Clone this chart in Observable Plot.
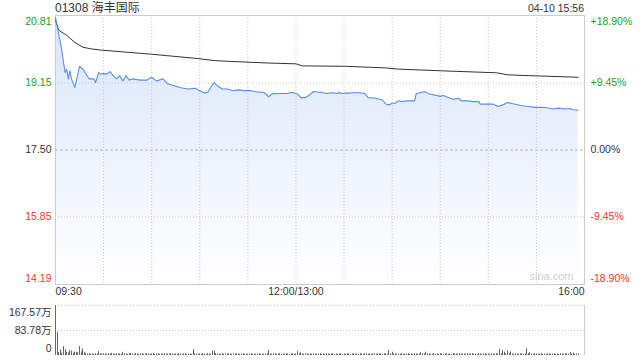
<!DOCTYPE html>
<html>
<head>
<meta charset="utf-8">
<script src="https://cdn.jsdelivr.net/npm/d3@7"></script>
<script src="https://cdn.jsdelivr.net/npm/@observablehq/plot@0.6"></script>
<style>
  html, body { margin: 0; padding: 0; background: #fff; }
  #wrap { position: relative; width: 640px; height: 360px; overflow: hidden;
          font-family: "Liberation Sans", Arial, "Noto Sans CJK SC", sans-serif; }
  #title { position: absolute; left: 55px; top: 2px; font-size: 12px; line-height: 12px; color: #333; white-space: nowrap; }
  #date { position: absolute; right: 56px; top: 3px; font-size: 10.5px; line-height: 11px; color: #333; white-space: nowrap; }
  #main { position: absolute; left: 0; top: 0; }
  #vol { position: absolute; left: 0; top: 300px; }
  svg { overflow: visible; }
</style>
</head>
<body>
<div id="wrap">
  <div id="main"></div>
  <div id="vol"></div>
  <div id="title">01308 海丰国际</div>
  <div id="date">04-10 15:56</div>
</div>
<script>
// ---- data (minutes since 09:30, lunch break removed) ----
const priceTimes = [0,2,4,5,6,7,8,9,10,12,13,15,17,19,21,24,25,27,28,30,32,34,36,38,40,42,44,46,48,53,57,60,63,67,70,74,78,83,87,90,93,95,98,99,101,104,107,111,114,118,122,124,127,130,133,135,141,145,147,151,153,156,158,161,164,166,169,172,176,177,178,182,186,190,193,195,199,202,204,206,208,210,212,214,216,219,224,225,228,231,233,237,240,242,245,248,252,253,257,260,264,265,270,273,276,279,282,286,291,295,299,303,307,310,314,318,321,323,326];
const prices = [20.76,20.35,19.94,19.65,19.41,19.49,19.25,19.45,19.25,19.04,19.20,19.56,19.49,19.37,19.25,19.25,19.16,19.41,19.37,19.38,19.37,19.43,19.33,19.25,19.33,19.20,19.33,19.22,19.25,19.22,19.22,19.29,19.20,19.25,19.13,19.08,19.03,19.00,19.02,18.96,18.90,18.92,19.11,19.16,19.08,19.00,19.00,18.96,18.98,18.96,18.96,18.94,18.92,18.92,18.81,18.88,18.89,18.89,18.92,18.88,18.79,18.79,18.84,18.94,18.92,18.92,18.89,18.91,18.89,18.92,18.89,18.90,18.91,18.91,18.89,18.79,18.78,18.75,18.73,18.63,18.61,18.65,18.65,18.71,18.69,18.71,18.71,18.88,18.92,18.93,18.88,18.85,18.82,18.84,18.79,18.75,18.77,18.71,18.71,18.69,18.69,18.63,18.63,18.63,18.57,18.61,18.67,18.63,18.59,18.57,18.55,18.55,18.54,18.51,18.53,18.51,18.52,18.49,18.48];

const avgTimes = [0,2,7,12,17,22,28,59,89,99,109,133,150,154,181,206,214,240,275,282,295,303,326];
const avgPrices = [20.70,20.45,20.32,20.15,20.03,19.99,19.96,19.86,19.75,19.70,19.68,19.64,19.62,19.57,19.56,19.52,19.49,19.45,19.40,19.35,19.33,19.32,19.29];

// volume in 万, one value per minute from 0 to 326
const volumes = [
  167.57,78,10,19,8,30,19,11,9,17, 15,8,11,11,9,30,12,22,11,6, 5,6,4,5,4,6,5,13,6,5,
  6,5,4,6,5,7,5,4,6,5, 5,4,11,6,5,4,6,7,5,4, 6,5,4,5,6,4,5,6,5,4,
  5,6,4,5,6,4,5,4,6,5, 4,5,6,5,4,5,4,6,5,4, 5,6,4,5,5,4,20,6,5,4,
  5,4,6,5,4,6,5,4,15,15, 6,5,4,5,6,4,5,4,6,5, 4,5,4,6,5,4,5,6,4,5,
  4,5,6,4,5,4,5,6,4,5, 4,5,6,17,5,4,6,5,4,5, 6,4,5,4,6,5,4,5,6,4,
  5,13,6,9,5,4,6,5,4,5, 4,6,5,4,5,6,4,5,4,6, 5,4,5,6,4,5,4,5,6,4,
  5,4,6,5,4,5,6,4,5,4, 6,5,4,5,6,4,5,4,5,6, 4,5,6,5,4,5,6,4,17,6,
  11,5,6,4,5,4,6,5,4,5, 6,4,5,4,6,5,4,5,9,6, 5,11,6,5,4,5,6,4,5,4,
  6,5,4,5,6,4,5,4,6,5, 4,5,6,4,5,4,5,6,4,5, 6,4,5,4,6,5,4,5,6,4,
  5,4,6,5,4,6,5,20,6,17, 11,6,15,6,12,5,4,6,5,4, 5,6,4,5,22,6,9,5,4,6,
  5,4,5,6,4,5,4,6,5,4, 5,6,4,5,4,6,5,4,5,6, 4,10,5,8,4,5,6
];

const priceTicks = [20.81, 19.15, 17.50, 15.85, 14.19];
const pctLabels = ["+18.90%", "+9.45%", "0.00%", "-9.45%", "-18.90%"];
const tickColors = ["#1e9e1e", "#1e9e1e", "#333333", "#f2362e", "#f2362e"];
const gridTimes = [30, 60, 90, 120, 150, 180, 210, 240, 270, 300];
const xLabels = ["09:30", "12:00/13:00", "16:00"];
const xLabelTimes = [0, 150, 330];
const volTicks = [167.57, 83.78, 0];
const volLabels = ["167.57万", "83.78万", "0"];

// ---- tables ----
const priceData = priceTimes.map((t, i) => ({t, p: prices[i]}));
const avgData = avgTimes.map((t, i) => ({t, p: avgPrices[i]}));
const volData = volumes.map((v, t) => ({t, v}));
const tickData = priceTicks.map((v, i) => ({v, label: v.toFixed(2), pct: pctLabels[i], color: tickColors[i]}));
const xLab = xLabels.map((s, i) => ({t: xLabelTimes[i], s}));
const volLab = volTicks.map((v, i) => ({v, s: volLabels[i]}));

const FONT = '"Liberation Sans", Arial, "Noto Sans CJK SC", sans-serif';
const FS = 10.5;

function gradientDefs() {
  const defs = d3.create("svg:defs");
  const g = defs.append("linearGradient").attr("id", "pg")
    .attr("x1", 0).attr("y1", 0).attr("x2", 0).attr("y2", 1);
  g.append("stop").attr("offset", "0%").attr("stop-color", "#d9e5fa");
  g.append("stop").attr("offset", "100%").attr("stop-color", "#ffffff");
  return defs.node();
}

const yMin = priceTicks[priceTicks.length - 1];
const yMax = priceTicks[0];

const main = Plot.plot({
  width: 640, height: 300,
  marginLeft: 55, marginRight: 56, marginTop: 15, marginBottom: 16,
  x: {domain: [0, 330], axis: null},
  y: {domain: [yMin, yMax], axis: null},
  color: {type: "identity"},
  style: {fontFamily: FONT, fontSize: FS + "px", background: "transparent", overflow: "visible"},
  marks: [
    gradientDefs,
    Plot.areaY(priceData, {x: "t", y1: () => yMin, y2: "p", fill: "url(#pg)"}),
    Plot.ruleX(gridTimes, {stroke: "#c8c8c8", strokeDasharray: "1,2"}),
    Plot.ruleY([priceTicks[1], priceTicks[3]], {stroke: "#c8c8c8", strokeDasharray: "1,2"}),
    Plot.ruleY([priceTicks[2]], {stroke: "#b8b8b8", strokeDasharray: "3,2"}),
    Plot.frame({stroke: "#cccccc"}),
    Plot.line(avgData, {x: "t", y: "p", stroke: "#333333", strokeWidth: 1}),
    Plot.line(priceData, {x: "t", y: "p", stroke: "#5a8fea", strokeWidth: 1.1}),
    // left price labels
    Plot.text(tickData.slice(0, 1), {y: "v", text: "label", fill: "color", frameAnchor: "left", textAnchor: "end", dx: -4, dy: 6, fontSize: FS}),
    Plot.text(tickData.slice(1, 4), {y: "v", text: "label", fill: "color", frameAnchor: "left", textAnchor: "end", dx: -4, fontSize: FS}),
    Plot.text(tickData.slice(4), {y: "v", text: "label", fill: "color", frameAnchor: "left", textAnchor: "end", dx: -4, dy: -6, fontSize: FS}),
    // right percentage labels
    Plot.text(tickData.slice(0, 1), {y: "v", text: "pct", fill: "color", frameAnchor: "right", textAnchor: "start", dx: 6, dy: 6, fontSize: FS}),
    Plot.text(tickData.slice(1, 4), {y: "v", text: "pct", fill: "color", frameAnchor: "right", textAnchor: "start", dx: 6, fontSize: FS}),
    Plot.text(tickData.slice(4), {y: "v", text: "pct", fill: "color", frameAnchor: "right", textAnchor: "start", dx: 6, dy: -6, fontSize: FS}),
    // time labels
    Plot.text(xLab.slice(0, 1), {x: "t", text: "s", frameAnchor: "bottom", textAnchor: "start", dy: 10, fill: "#333", fontSize: FS}),
    Plot.text(xLab.slice(1, 2), {x: "t", text: "s", frameAnchor: "bottom", textAnchor: "middle", dy: 10, fill: "#333", fontSize: FS}),
    Plot.text(xLab.slice(2), {x: "t", text: "s", frameAnchor: "bottom", textAnchor: "end", dy: 10, fill: "#333", fontSize: FS}),
    // watermark
    Plot.text(["sina.com"], {frameAnchor: "bottom-right", textAnchor: "end", dx: -11, dy: -5, fill: "#cfcfcf", fontSize: 11})
  ]
});
document.getElementById("main").appendChild(main);

const vol = Plot.plot({
  width: 640, height: 60,
  marginLeft: 55, marginRight: 56, marginTop: 5, marginBottom: 5,
  x: {domain: [0, 330], axis: null, round: true},
  y: {domain: [0, volTicks[0]], axis: null},
  style: {fontFamily: FONT, fontSize: FS + "px", background: "transparent", overflow: "visible"},
  marks: [
    Plot.ruleY(volTicks.slice(0, 2), {stroke: "#c8c8c8", strokeDasharray: "1,2"}),
    Plot.ruleX([0, 330], {stroke: "#cccccc"}),
    Plot.ruleX(volData, {x: "t", y1: () => 0, y2: "v", stroke: "#666666", strokeWidth: 1}),
    Plot.text(volLab.slice(0, 1), {y: "v", text: "s", frameAnchor: "left", textAnchor: "end", dx: -4, dy: 7, fill: "#333", fontSize: FS}),
    Plot.text(volLab.slice(1, 2), {y: "v", text: "s", frameAnchor: "left", textAnchor: "end", dx: -4, fill: "#333", fontSize: FS}),
    Plot.text(volLab.slice(2), {y: "v", text: "s", frameAnchor: "left", textAnchor: "end", dx: -4, dy: -7, fill: "#333", fontSize: FS})
  ]
});
document.getElementById("vol").appendChild(vol);
</script>
</body>
</html>
